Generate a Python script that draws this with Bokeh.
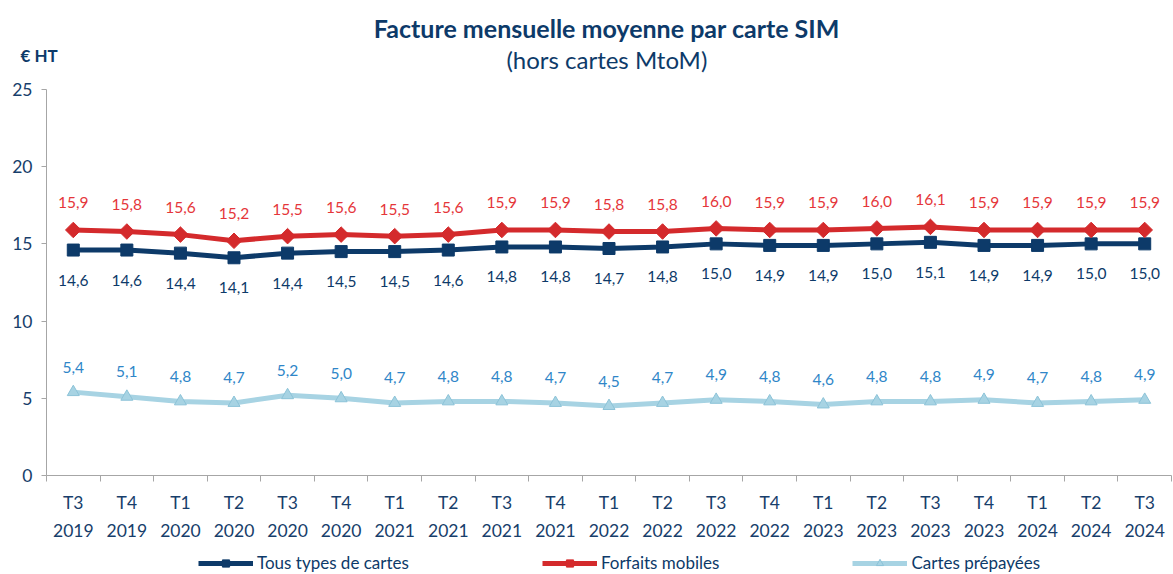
import math
from bokeh.plotting import figure
from bokeh.models import FixedTicker, Legend, LegendItem, ColumnDataSource, LinearAxis
from bokeh.core.properties import value
from bokeh.embed import file_html
from bokeh.resources import INLINE

quarters = ["T3", "T4", "T1", "T2", "T3", "T4", "T1", "T2", "T3", "T4", "T1", "T2",
            "T3", "T4", "T1", "T2", "T3", "T4", "T1", "T2", "T3"]
years = ["2019", "2019", "2020", "2020", "2020", "2020", "2021", "2021", "2021", "2021",
         "2022", "2022", "2022", "2022", "2023", "2023", "2023", "2023", "2024", "2024", "2024"]
tous = [14.6, 14.6, 14.4, 14.1, 14.4, 14.5, 14.5, 14.6, 14.8, 14.8, 14.7, 14.8,
        15.0, 14.9, 14.9, 15.0, 15.1, 14.9, 14.9, 15.0, 15.0]
forfaits = [15.9, 15.8, 15.6, 15.2, 15.5, 15.6, 15.5, 15.6, 15.9, 15.9, 15.8, 15.8,
            16.0, 15.9, 15.9, 16.0, 16.1, 15.9, 15.9, 15.9, 15.9]
prepayees = [5.4, 5.1, 4.8, 4.7, 5.2, 5.0, 4.7, 4.8, 4.8, 4.7, 4.5, 4.7,
             4.9, 4.8, 4.6, 4.8, 4.8, 4.9, 4.7, 4.8, 4.9]
y_ticks = [0, 5, 10, 15, 20, 25]
title = "Facture mensuelle moyenne par carte SIM"
subtitle = "(hors cartes MtoM)"
unit = "€ HT"
series_names = ["Tous types de cartes", "Forfaits mobiles", "Cartes prépayées"]

FONT = "Lato"
NAVY = "#0D3A69"
RED = "#D42A2C"
RED_TXT = "#E5363A"
LIGHT = "#A7D3E3"
LIGHT_EDGE = "#8CC3D8"
LIGHT_TXT = "#2F86C8"
TXT = "#173E6B"
AXIS = "#A6A6A6"

n = len(quarters)
xs = [i + 0.5 for i in range(n)]

def fmt(v):
    return f"{v:.1f}".replace(".", ",")

# The frame covers the whole canvas; the axes are pinned at x=0 / y=0 so that
# titles, unit and legend (drawn inside the frame) are not clipped.
p = figure(width=1173, height=574, x_range=(-0.8587, n + 0.0373), y_range=(-6.41, 30.76),
           output_backend="svg", toolbar_location=None, x_axis_location=None,
           y_axis_location=None, min_border=0)
p.outline_line_color = None
p.grid.grid_line_color = None
p.background_fill_color = "white"
p.border_fill_color = "white"

xaxis = LinearAxis(fixed_location=0, bounds=(0, n))
xaxis.ticker = FixedTicker(ticks=xs, minor_ticks=list(range(n + 1)))
xaxis.major_label_overrides = {x: f"{q}\n{y}" for x, q, y in zip(xs, quarters, years)}
xaxis.major_tick_line_color = None
xaxis.minor_tick_line_color = AXIS
xaxis.minor_tick_out = 6
xaxis.minor_tick_in = 0
xaxis.axis_line_color = AXIS
xaxis.major_label_text_font = FONT
xaxis.major_label_text_font_size = "17.5px"
xaxis.major_label_text_line_height = 1.35
xaxis.major_label_text_color = TXT
xaxis.major_label_standoff = 10
p.add_layout(xaxis, "below")

yaxis = LinearAxis(fixed_location=0, bounds=(y_ticks[0], y_ticks[-1]))
yaxis.ticker = FixedTicker(ticks=y_ticks, minor_ticks=[])
yaxis.axis_line_color = AXIS
yaxis.major_tick_line_color = AXIS
yaxis.major_tick_out = 5
yaxis.major_tick_in = 0
yaxis.minor_tick_line_color = None
yaxis.major_label_text_font = FONT
yaxis.major_label_text_font_size = "17.5px"
yaxis.major_label_text_color = TXT
yaxis.major_label_standoff = 9
p.add_layout(yaxis, "left")

# series
l1 = p.line(xs, tous, line_color=NAVY, line_width=5)
m1 = p.scatter(xs, tous, marker="square", size=12, fill_color=NAVY, line_color=NAVY)
l2 = p.line(xs, forfaits, line_color=RED, line_width=5)
m2 = p.scatter(xs, forfaits, marker="square", angle=math.pi / 4, size=11,
               fill_color=RED, line_color=RED)
l3 = p.line(xs, prepayees, line_color=LIGHT, line_width=5)
m3 = p.scatter(xs, prepayees, marker="triangle", size=12, fill_color=LIGHT, line_color=LIGHT_EDGE)

# data labels
src1 = ColumnDataSource(dict(x=xs, y=tous, t=[fmt(v) for v in tous]))
src2 = ColumnDataSource(dict(x=xs, y=forfaits, t=[fmt(v) for v in forfaits]))
src3 = ColumnDataSource(dict(x=xs, y=prepayees, t=[fmt(v) for v in prepayees]))
common = dict(text_align="center", text_baseline="middle", text_font=value(FONT),
              text_font_size="15.5px")
p.text(x="x", y="y", text="t", source=src1, y_offset=30, text_color=NAVY, **common)
p.text(x="x", y="y", text="t", source=src2, y_offset=-27, text_color=RED_TXT, **common)
p.text(x="x", y="y", text="t", source=src3, y_offset=-25, text_color=LIGHT_TXT, **common)

# titles and unit
p.text(x=[10.46], y=[29.0], text=[title], text_align="center", text_baseline="middle",
       text_font=value(FONT), text_font_size="25px", text_font_style="bold", text_color=NAVY)
p.text(x=[10.46], y=[26.95], text=[subtitle], text_align="center", text_baseline="middle",
       text_font=value(FONT), text_font_size="24px", text_color=NAVY)
p.text(x=[-0.485], y=[27.2], text=[unit], text_align="left", text_baseline="middle",
       text_font=value(FONT), text_font_size="17px", text_font_style="bold", text_color=NAVY)

legend = Legend(items=[
    LegendItem(label=series_names[0], renderers=[l1, m1]),
    LegendItem(label=series_names[1], renderers=[l2, m2]),
    LegendItem(label=series_names[2], renderers=[l3, m3]),
], orientation="horizontal", location=(198, 1), glyph_width=55, glyph_height=18,
    label_standoff=4, spacing=133, border_line_color=None, background_fill_alpha=0,
    label_text_font=FONT, label_text_font_size="17px", label_text_color=NAVY,
    label_height=18, padding=0, margin=0)
p.add_layout(legend, "center")

open("out.html", "w").write(file_html(p, INLINE))
